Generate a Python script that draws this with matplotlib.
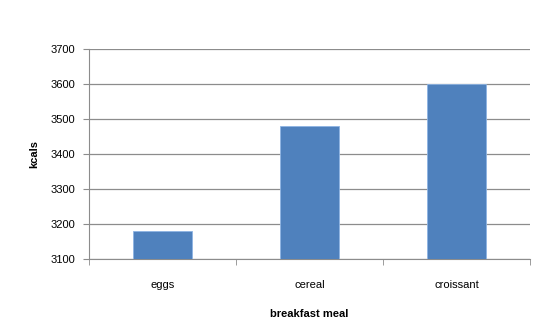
import matplotlib.pyplot as plt
import numpy as np

meals = ['eggs', 'cereal', 'croissant']
kcals = [3180, 3480, 3600]
yticks = [3100, 3200, 3300, 3400, 3500, 3600, 3700]

plt.rcParams['font.family'] = ['Liberation Sans', 'DejaVu Sans']

fig = plt.figure(figsize=(5.5, 3.32), dpi=100)
ax = fig.add_axes([0.162, 0.22, 0.802, 0.632])

x = np.arange(len(meals))
ax.bar(x, kcals, width=0.4, bottom=0, color='#4F81BD', edgecolor='#8EB4E3',
       linewidth=0.6, zorder=3)

ax.set_ylim(3100, 3700)
ax.set_xlim(-0.5, len(meals) - 0.5)
ax.set_yticks(yticks)
ax.set_yticklabels([str(v) for v in yticks], fontsize=8)
ax.yaxis.grid(True, color='#8c8c8c', linewidth=0.9, zorder=0)

# category labels centred, tick marks between categories
ax.set_xticks(x)
ax.set_xticklabels(meals, fontsize=8)
ax.tick_params(axis='x', length=0, pad=15)
ax.set_xticks(np.arange(-0.5, len(meals)), minor=True)
ax.tick_params(axis='x', which='minor', length=4, color='#8c8c8c', direction='out')
ax.tick_params(axis='y', length=4, color='#8c8c8c', direction='out', pad=6)

for s in ['top', 'right']:
    ax.spines[s].set_visible(False)
ax.spines['left'].set_color('#8c8c8c')
ax.spines['bottom'].set_color('#8c8c8c')

ax.set_xlabel('breakfast meal', fontsize=8, fontweight='bold', labelpad=14)
ax.set_ylabel('kcals', fontsize=8, fontweight='bold', labelpad=8)

fig.savefig('out.png', dpi=100)
